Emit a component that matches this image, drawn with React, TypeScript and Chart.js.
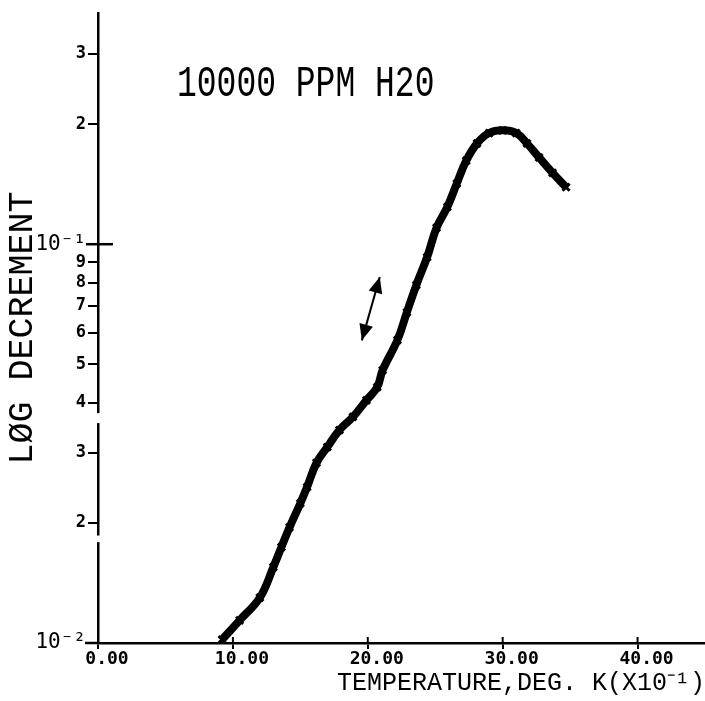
import React, { useEffect, useRef } from "react";
import { Chart, registerables } from "chart.js";

Chart.register(...registerables);

// Temperature (deg K x10^-1)
const TEMP = [9.2, 10.5, 12.0, 13.0, 13.6, 14.2, 15.0, 15.5, 16.2, 17.0, 17.9, 18.9, 19.9, 20.7, 21.1, 22.2, 22.9, 23.6, 24.4, 25.1, 25.9, 26.6, 27.3, 28.1, 29.0, 30.0, 31.0, 31.8, 32.7, 33.7, 34.7];
// Log decrement
const LOG_DEC = [0.0102, 0.0114, 0.013, 0.0155, 0.0174, 0.0195, 0.0224, 0.0246, 0.0283, 0.031, 0.0342, 0.0369, 0.0406, 0.0438, 0.0483, 0.0575, 0.0675, 0.079, 0.0928, 0.11, 0.124, 0.142, 0.162, 0.179, 0.19, 0.193, 0.19, 0.179, 0.165, 0.151, 0.139];

const X_TICKS = [0, 10, 20, 30, 40];
const Y_TICKS = [0.01, 0.02, 0.03, 0.04, 0.05, 0.06, 0.07, 0.08, 0.09, 0.1, 0.2, 0.3];
const Y_TICK_LABELS = ["10\u207B\u00B2", "2", "3", "4", "5", "6", "7", "8", "9", "10\u207B\u00B9", "2", "3"];
const X_MIN = 0;
const X_MAX = 45;
const Y_MIN = 0.01;
const Y_MAX = 0.38;

const TITLE = "10000 PPM H20";
const X_TITLE = "TEMPERATURE,DEG. K(X10\u207B\u00B9)";
const Y_TITLE = "L\u00D8G DECREMENT";

// double-headed arrow endpoints (data coordinates)
const ARROW_X = [19.56, 20.89];
const ARROW_Y = [0.0574, 0.0828];
// y-axis breaks (value ranges)
const AXIS_BREAKS = [[0.0356, 0.0377], [0.0179, 0.0186]];

const decorPlugin = {
  id: "decor",
  afterDraw(chart: any) {
    const { ctx, chartArea, scales } = chart;
    const xs = scales.x;
    const ys = scales.y;
    const { left, bottom, top } = chartArea;
    ctx.save();
    ctx.strokeStyle = "#000";
    ctx.fillStyle = "#000";
    ctx.lineWidth = 2.5;

    // x-axis line extension to the left
    ctx.beginPath();
    ctx.moveTo(left - 13, bottom);
    ctx.lineTo(left, bottom);
    ctx.stroke();

    // inner halves of x ticks
    ctx.lineWidth = 2;
    X_TICKS.forEach((v) => {
      const px = xs.getPixelForValue(v);
      ctx.beginPath();
      ctx.moveTo(px, bottom - 6);
      ctx.lineTo(px, bottom);
      ctx.stroke();
    });

    // long crossing tick at 10^-1
    const y1 = ys.getPixelForValue(0.1);
    ctx.lineWidth = 2.5;
    ctx.beginPath();
    ctx.moveTo(left - 12, y1);
    ctx.lineTo(left + 15, y1);
    ctx.stroke();

    // axis breaks
    ctx.fillStyle = "#fff";
    AXIS_BREAKS.forEach(([a, b]) => {
      const pa = ys.getPixelForValue(a);
      const pb = ys.getPixelForValue(b);
      ctx.fillRect(left - 3, Math.min(pa, pb), 6, Math.abs(pa - pb));
    });
    ctx.fillStyle = "#000";

    // double-headed arrow
    const ax1 = xs.getPixelForValue(ARROW_X[0]);
    const ay1 = ys.getPixelForValue(ARROW_Y[0]);
    const ax2 = xs.getPixelForValue(ARROW_X[1]);
    const ay2 = ys.getPixelForValue(ARROW_Y[1]);
    ctx.lineWidth = 2;
    ctx.beginPath();
    ctx.moveTo(ax1, ay1);
    ctx.lineTo(ax2, ay2);
    ctx.stroke();
    const head = (tx: number, ty: number, fx: number, fy: number) => {
      const ang = Math.atan2(ty - fy, tx - fx);
      const L = 16;
      const W = 7;
      const bx = tx - L * Math.cos(ang);
      const by = ty - L * Math.sin(ang);
      ctx.beginPath();
      ctx.moveTo(tx, ty);
      ctx.lineTo(bx + W * Math.sin(ang), by - W * Math.cos(ang));
      ctx.lineTo(bx - W * Math.sin(ang), by + W * Math.cos(ang));
      ctx.closePath();
      ctx.fill();
    };
    head(ax1, ay1, ax2, ay2);
    head(ax2, ay2, ax1, ay1);

    // in-plot title
    ctx.save();
    ctx.font = '33px "Liberation Mono"';
    ctx.textAlign = "left";
    ctx.textBaseline = "alphabetic";
    ctx.translate(left + 79, top + 83);
    ctx.scale(1, 1.35);
    ctx.fillText(TITLE, 0, 0);
    ctx.restore();

    ctx.restore();
  },
};

export default function App() {
  const ref = useRef<HTMLCanvasElement>(null);
  useEffect(() => {
    if (!ref.current) return;
    const chart = new Chart(ref.current, {
      type: "line",
      data: {
        datasets: [
          {
            data: TEMP.map((t, i) => ({ x: t, y: LOG_DEC[i] })),
            borderColor: "#000",
            backgroundColor: "#000",
            borderWidth: 8,
            tension: 0.4,
            pointStyle: "crossRot",
            pointRadius: 5,
            pointBorderWidth: 3,
            pointBorderColor: "#000",
            fill: false,
            clip: false,
          },
        ],
      },
      options: {
        animation: false,
        responsive: false,
        events: [],
        layout: { autoPadding: false, padding: { top: 13, right: 0, left: 0, bottom: 0 } },
        plugins: { legend: { display: false }, tooltip: { enabled: false }, title: { display: false } },
        scales: {
          x: {
            type: "linear",
            min: X_MIN,
            max: X_MAX,
            afterBuildTicks: (s: any) => {
              s.ticks = X_TICKS.map((v) => ({ value: v }));
            },
            afterFit: (s: any) => {
              s.height = 58;
              s.paddingRight = 0;
              s.paddingLeft = 0;
            },
            grid: { display: true, drawOnChartArea: false, drawTicks: true, tickLength: 6, color: "#000", lineWidth: 2 },
            border: { display: true, color: "#000", width: 2.5 },
            ticks: {
              color: "#000",
              font: { family: '"DejaVu Sans Mono"', size: 18, weight: "bold" },
              padding: 0,
              labelOffset: 9,
              maxRotation: 0,
              autoSkip: false,
              callback: (v: any) => Number(v).toFixed(2),
            },
            title: {
              display: true,
              text: X_TITLE,
              align: "end",
              color: "#000",
              font: { family: '"Liberation Mono"', size: 25, weight: "normal" },
              padding: { top: 0, bottom: 3 },
            },
          },
          y: {
            type: "logarithmic",
            min: Y_MIN,
            max: Y_MAX,
            afterBuildTicks: (s: any) => {
              s.ticks = Y_TICKS.map((v) => ({ value: v }));
            },
            afterFit: (s: any) => {
              s.width = 98;
            },
            grid: { display: true, drawOnChartArea: false, drawTicks: true, tickLength: 10, color: "#000", lineWidth: 2 },
            border: { display: true, color: "#000", width: 2.5 },
            ticks: {
              color: "#000",
              font: (c: any) => {
                const v = c.tick ? c.tick.value : 0;
                const pow = Math.abs(v - 0.1) < 1e-9 || Math.abs(v - 0.01) < 1e-9;
                return pow
                  ? { family: '"DejaVu Sans Mono"', size: 21, weight: "normal" }
                  : { family: '"DejaVu Sans Mono"', size: 17, weight: "bold" };
              },
              padding: 2,
              autoSkip: false,
              callback: (v: any) => {
                const i = Y_TICKS.findIndex((t) => Math.abs(t - Number(v)) < 1e-9);
                return i >= 0 ? Y_TICK_LABELS[i] : "";
              },
            },
            title: {
              display: true,
              text: Y_TITLE,
              align: "center",
              color: "#000",
              font: { family: '"Liberation Mono"', size: 35, weight: "normal" },
              padding: { top: 2, bottom: 0 },
            },
          },
        },
      },
      plugins: [decorPlugin],
    } as any);
    return () => chart.destroy();
  }, []);
  return (
    <div style={{ position: "absolute", left: 0, top: 0, width: 705, height: 701, background: "#fff" }}>
      <canvas ref={ref} width={705} height={701} />
    </div>
  );
}
